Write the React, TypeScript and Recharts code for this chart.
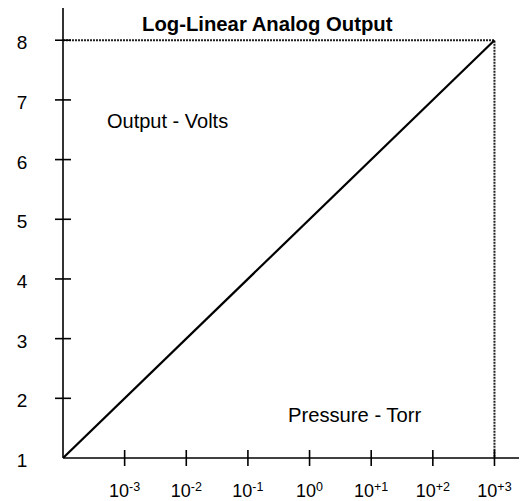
import { LineChart, Line, XAxis, YAxis } from "recharts";

const FONT = '"Liberation Sans", Arial, Helvetica, sans-serif';

// pressure span (Torr) mapped onto output span (Volts)
const pressureEnds = [1e-4, 1e3];
const voltEnds = [1, 8];

const xTicks = [1e-3, 1e-2, 1e-1, 1, 1e1, 1e2, 1e3];
const xTickExps = ["-3", "-2", "-1", "0", "+1", "+2", "+3"];
const yTicks = [1, 2, 3, 4, 5, 6, 7, 8];

const outputData = pressureEnds.map((p, i) => ({ p, v: voltEnds[i] }));
// full-scale guide: across the top, then down to the axis
const guideData = [
  { p: pressureEnds[0], v: voltEnds[1] },
  { p: pressureEnds[1], v: voltEnds[1] },
  { p: pressureEnds[1], v: voltEnds[0] },
];

function XTick({ x, y, payload }: any) {
  const i = xTicks.findIndex((t) => Math.abs(Math.log10(t) - Math.log10(payload.value)) < 1e-6);
  return (
    <g>
      <line x1={x} x2={x} y1={y - 8} y2={y + 8} stroke="#000" strokeWidth={1.6} />
      <text x={x} y={y + 39} textAnchor="middle" fontFamily={FONT} fill="#000">
        <tspan fontSize={18}>10</tspan>
        <tspan fontSize={12.5} dy={-6}>{xTickExps[i]}</tspan>
      </text>
    </g>
  );
}

function YTick({ x, y, payload }: any) {
  return (
    <g>
      {payload.value !== voltEnds[0] && (
        <line x1={x - 8} x2={x + 8} y1={y} y2={y} stroke="#000" strokeWidth={1.6} />
      )}
      <text x={x - 41} y={y + 9} textAnchor="middle" fontFamily={FONT} fontSize={19} fill="#000">
        {payload.value}
      </text>
    </g>
  );
}

export default function App() {
  return (
    <div style={{ position: "absolute", left: 0, top: 0, width: 524, height: 501, background: "#fff" }}>
      <LineChart width={524} height={501} margin={{ top: 8, right: 5, bottom: 0, left: 0 }}>
        <XAxis
          dataKey="p"
          type="number"
          scale="log"
          domain={[1e-4, 2500]}
          ticks={xTicks}
          allowDataOverflow
          height={43}
          tickSize={0}
          tickMargin={0}
          tickLine={false}
          axisLine={{ stroke: "#000", strokeWidth: 1.6 }}
          tick={<XTick />}
          interval={0}
        />
        <YAxis
          dataKey="v"
          type="number"
          domain={[1, 8.54]}
          ticks={yTicks}
          allowDataOverflow
          width={63}
          tickSize={0}
          tickMargin={0}
          tickLine={false}
          axisLine={{ stroke: "#000", strokeWidth: 1.6 }}
          tick={<YTick />}
          interval={0}
        />
        <Line
          data={guideData}
          dataKey="v"
          stroke="#222"
          strokeWidth={2}
          strokeDasharray="2 1"
          dot={false}
          isAnimationActive={false}
        />
        <Line
          data={outputData}
          dataKey="v"
          stroke="#000"
          strokeWidth={2.2}
          dot={false}
          isAnimationActive={false}
        />
        <text x={142} y={31} fontFamily={FONT} fontSize={20.3} fontWeight="bold" fill="#000">
          Log-Linear Analog Output
        </text>
        <text x={107} y={128} fontFamily={FONT} fontSize={20} fill="#000">
          Output - Volts
        </text>
        <text x={288} y={422} fontFamily={FONT} fontSize={20.2} fill="#000">
          Pressure - Torr
        </text>
      </LineChart>
    </div>
  );
}
